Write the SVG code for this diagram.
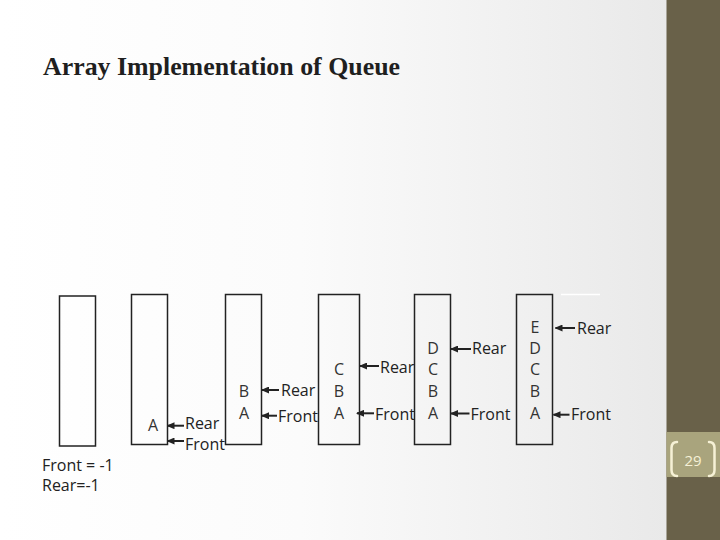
<svg xmlns="http://www.w3.org/2000/svg" width="720" height="540" viewBox="0 0 720 540">
  <defs>
    <linearGradient id="bg" x1="0" y1="0" x2="1" y2="0">
      <stop offset="0" stop-color="#ffffff"/>
      <stop offset="0.45" stop-color="#fbfbfb"/>
      <stop offset="1" stop-color="#e9e9e9"/>
    </linearGradient>
    <marker id="ah" markerUnits="userSpaceOnUse" markerWidth="8" markerHeight="7" refX="7" refY="3.5" orient="auto">
      <path d="M0,0 L8,3.5 L0,7 z" fill="#222"/>
    </marker>
    <style>
      .box { fill: none; stroke: #222; stroke-width: 1.5; }
      .lbl { font-family: "Open Sans", "Liberation Sans", sans-serif; font-size: 16px; fill: #222; }
      .cell { font-family: "Open Sans", "Liberation Sans", sans-serif; font-size: 16px; fill: #333; text-anchor: middle; }
      .arr { stroke: #222; stroke-width: 2; fill: none; marker-end: url(#ah); }
      .title { font-family: "Liberation Serif", "Times New Roman", serif; font-size: 26px; font-weight: bold; fill: #1f1f1f; }
      .brk { fill: none; stroke: #f6f1d6; stroke-width: 2.5; stroke-linecap: round; }
    </style>
  </defs>

  <rect x="0" y="0" width="667" height="540" fill="url(#bg)"/>
  <rect x="666.5" y="0" width="53.5" height="540" fill="#696149"/>
  <rect x="666.5" y="432" width="53.5" height="45" fill="#a9a47d"/>
  <line x1="561" y1="294.5" x2="600" y2="294.5" stroke="#ffffff" stroke-width="1.5"/>

  <text class="title" x="43" y="75" textLength="357" lengthAdjust="spacingAndGlyphs">Array Implementation of Queue</text>

  <g id="queue-empty">
    <rect class="box" x="59.5" y="296" width="36" height="150"/>
    <text class="lbl" x="42" y="470.5">Front = -1</text>
    <text class="lbl" x="42" y="490.5">Rear=-1</text>
  </g>

  <g id="queue-1">
    <rect class="box" x="131.5" y="294.5" width="36" height="150"/>
    <text class="cell" x="153" y="431">A</text>
    <text class="lbl" x="185" y="429">Rear</text>
    <text class="lbl" x="185" y="450">Front</text>
  </g>

  <g id="queue-2">
    <rect class="box" x="225.5" y="294.5" width="36" height="150"/>
    <text class="cell" x="244" y="397">B</text>
    <text class="cell" x="244" y="419">A</text>
    <text class="lbl" x="281" y="395.5">Rear</text>
    <text class="lbl" x="278" y="422">Front</text>
  </g>

  <g id="queue-3">
    <rect class="box" x="318.5" y="294.5" width="41" height="150"/>
    <text class="cell" x="339" y="375">C</text>
    <text class="cell" x="339" y="397">B</text>
    <text class="cell" x="339" y="419">A</text>
    <text class="lbl" x="380" y="372.5">Rear</text>
    <text class="lbl" x="375" y="419.5">Front</text>
  </g>

  <g id="queue-4">
    <rect class="box" x="414.5" y="294.5" width="36" height="150"/>
    <text class="cell" x="433" y="353.5">D</text>
    <text class="cell" x="433" y="375">C</text>
    <text class="cell" x="433" y="397">B</text>
    <text class="cell" x="433" y="419">A</text>
    <text class="lbl" x="472" y="354">Rear</text>
    <text class="lbl" x="470.5" y="419.5">Front</text>
  </g>

  <g id="queue-5">
    <rect class="box" x="516.5" y="294.5" width="36" height="150"/>
    <text class="cell" x="535" y="333">E</text>
    <text class="cell" x="535" y="353.5">D</text>
    <text class="cell" x="535" y="375">C</text>
    <text class="cell" x="535" y="397">B</text>
    <text class="cell" x="535" y="419">A</text>
    <text class="lbl" x="577" y="334">Rear</text>
    <text class="lbl" x="571" y="420">Front</text>
  </g>

  <g id="connectors">
    <line class="arr" x1="184" y1="425.7" x2="167.5" y2="425.7"/>
    <line class="arr" x1="184" y1="441" x2="167.5" y2="441"/>
    <line class="arr" x1="279" y1="390" x2="262" y2="390"/>
    <line class="arr" x1="277" y1="415.7" x2="262" y2="415.7"/>
    <line class="arr" x1="379" y1="366" x2="360" y2="366"/>
    <line class="arr" x1="374" y1="413.3" x2="357" y2="413.3"/>
    <line class="arr" x1="471" y1="349" x2="451" y2="349"/>
    <line class="arr" x1="469.5" y1="413.5" x2="451" y2="413.5"/>
    <line class="arr" x1="575" y1="328" x2="555.5" y2="328"/>
    <line class="arr" x1="569.5" y1="414.7" x2="553.5" y2="414.7"/>
  </g>

  <g id="page-number">
    <path class="brk" d="M677,442 Q671.5,442 671.5,448 L671.5,470 Q671.5,476 677,476"/>
    <path class="brk" d="M709,442 Q714.5,442 714.5,448 L714.5,470 Q714.5,476 709,476"/>
    <text x="693" y="465.5" text-anchor="middle" font-family="'Open Sans', 'Liberation Sans', sans-serif" font-size="15" fill="#f6f1d6">29</text>
  </g>
</svg>
